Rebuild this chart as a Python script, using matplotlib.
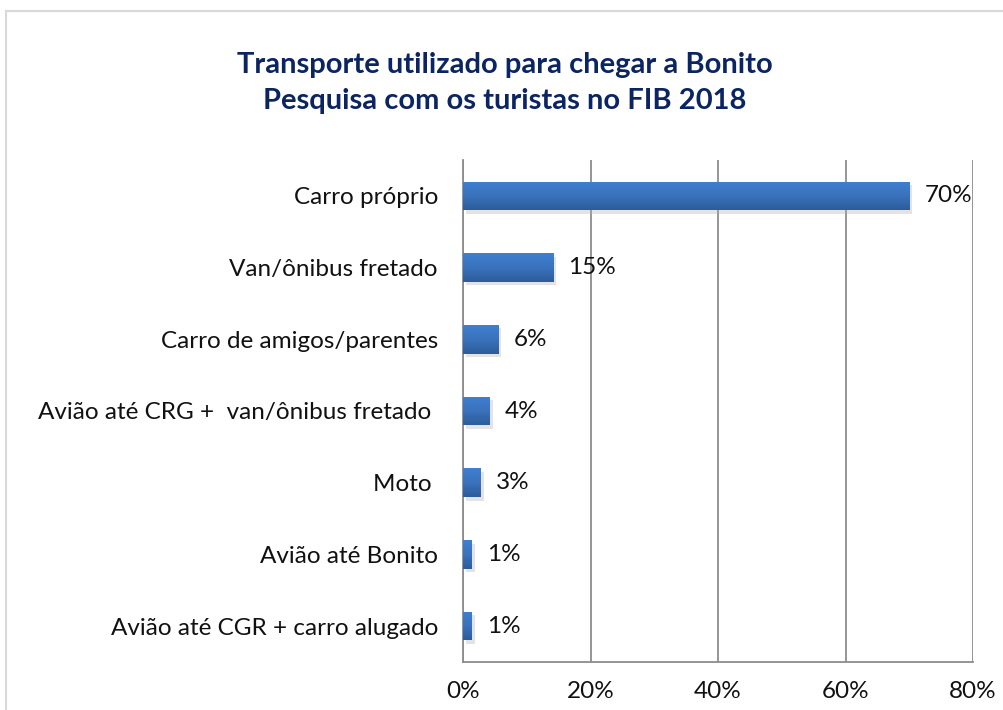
import numpy as np
import matplotlib.pyplot as plt
from matplotlib.lines import Line2D
from matplotlib.colors import LinearSegmentedColormap
import matplotlib.patheffects as pe

# dados (de cima para baixo)
categorias = ["Carro próprio", "Van/ônibus fretado", "Carro de amigos/parentes",
              "Avião até CRG +  van/ônibus fretado ", "Moto ", "Avião até Bonito",
              "Avião até CGR + carro alugado"]
valores = [70.0, 14.2, 5.6, 4.2, 2.8, 1.4, 1.4]
rotulos = ["70%", "15%", "6%", "4%", "3%", "1%", "1%"]
ticks = [0, 20, 40, 60, 80]

plt.rcParams['font.family'] = ['Lato', 'DejaVu Sans']

fig = plt.figure(figsize=(10.04, 7.10), dpi=100)
W, H = 1004, 710
ax = fig.add_axes([463 / W, 1 - 662 / H, (973 - 463) / W, (662 - 160) / H])

# moldura externa (aberta à direita e embaixo)
fig.add_artist(Line2D([6 / W, 1.0], [1 - 10.5 / H, 1 - 10.5 / H], color="#d9d9d9", lw=1.5,
                      transform=fig.transFigure))
fig.add_artist(Line2D([6 / W, 6 / W], [0, 1 - 10.5 / H], color="#d9d9d9", lw=1.5,
                      transform=fig.transFigure))

y = np.arange(len(categorias))
bars = ax.barh(y, valores, height=0.40, color="#3a70b8", zorder=3,
               path_effects=[pe.SimplePatchShadow(offset=(2, -2.5), shadow_rgbFace="#b0b0b0", alpha=0.35),
                             pe.Normal()])

# gradiente vertical nas barras
grad = np.linspace(0, 1, 64).reshape(-1, 1)
cmap = LinearSegmentedColormap.from_list("g", ["#3f80d0", "#3a72bd", "#2c5c9a"])
for b in bars:
    x0, y0 = b.get_x(), b.get_y()
    im = ax.imshow(grad, cmap=cmap, aspect="auto", zorder=4,
                   extent=[x0, x0 + b.get_width(), y0 + b.get_height(), y0])
    im.set_clip_path(b)

for yi, v, r in zip(y, valores, rotulos):
    ax.annotate(r, (v, yi), xytext=(15, 0), textcoords="offset pixels",
                va="center", ha="left", fontsize=17.5, color="#111111", zorder=5)

ax.set_xlim(0, 80)
ax.set_ylim(len(categorias) - 0.5, -0.5)
ax.set_xticks(ticks)
ax.set_xticklabels([f"{t}%" for t in ticks], fontsize=17.5)
ax.set_yticks(y)
ax.set_yticklabels(categorias, fontsize=17.5)
ax.tick_params(axis="both", length=0, colors="#111111")
ax.tick_params(axis="x", pad=14)
ax.tick_params(axis="y", pad=18)
ax.grid(axis="x", color="#8c8c8c", lw=1.3, zorder=0)
for s in ["top", "right"]:
    ax.spines[s].set_visible(False)
for s in ["left", "bottom"]:
    ax.spines[s].set_color("#8c8c8c")
    ax.spines[s].set_linewidth(1.3)

fig.text(505 / W, 1 - 65 / H, "Transporte utilizado para chegar a Bonito", ha="center", va="center",
         fontsize=21, fontweight="bold", color="#0b2462")
fig.text(505 / W, 1 - 101 / H, "Pesquisa com os turistas no FIB 2018", ha="center", va="center",
         fontsize=21, fontweight="bold", color="#0b2462")

fig.savefig("out.png", dpi=100)
